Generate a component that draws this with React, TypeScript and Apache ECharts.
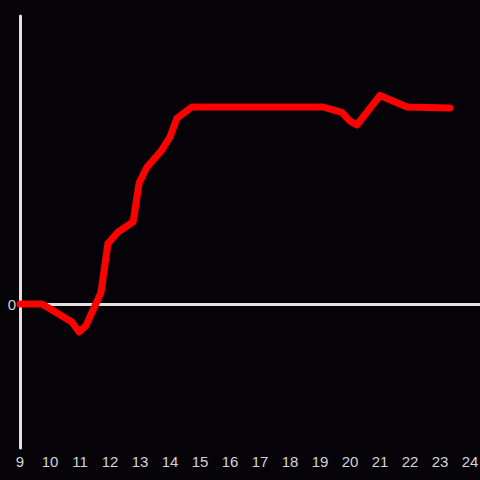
import React, { useEffect, useRef } from "react";
import * as echarts from "echarts";

const xValues = [9, 9.73, 10.73, 10.97, 11.2, 11.7, 11.93, 12.27, 12.77, 12.97, 13.23, 13.73, 14.0, 14.23, 14.73, 19.1, 19.4, 19.73, 20.0, 20.23, 21.0, 21.9, 23.33];
const yValues = [0, 0, -0.125, -0.194, -0.15, 0.08, 0.42, 0.5, 0.57, 0.84, 0.95, 1.07, 1.16, 1.29, 1.368, 1.368, 1.35, 1.33, 1.27, 1.243, 1.448, 1.368, 1.361];
const yLabels = [0];

export default function App() {
  const ref = useRef<HTMLDivElement>(null);
  useEffect(() => {
    document.body.style.margin = "0";
    const chart = echarts.init(ref.current!, undefined, { renderer: "svg" });
    const data = xValues.map((x, i) => [x, yValues[i]]);
    chart.setOption({
      animation: false,
      backgroundColor: "#050307",
      grid: { left: 20, right: 0, top: 16, bottom: 32, containLabel: false, outerBoundsMode: "none" },
      xAxis: {
        type: "value",
        min: 9,
        max: 24.333,
        interval: 1,
        axisLine: { show: false },
        axisTick: { show: false },
        splitLine: { show: false },
        axisLabel: {
          color: "#d4d4d4",
          fontSize: 15,
          fontFamily: "Liberation Sans, Arial, sans-serif",
          margin: 6,
          formatter: (v: number) => (Number.isInteger(v) ? String(v) : ""),
        },
      },
      yAxis: {
        type: "value",
        min: -1,
        max: 2,
        interval: 1,
        axisLine: { show: true, onZero: false, lineStyle: { color: "#e0e0e0", width: 3 } },
        axisTick: { show: false },
        splitLine: { show: false },
        axisLabel: {
          color: "#d4d4d4",
          fontSize: 15,
          fontFamily: "Liberation Sans, Arial, sans-serif",
          margin: 4,
          formatter: (v: number) => (yLabels.includes(v) ? String(v) : ""),
        },
      },
      series: [
        {
          type: "line",
          data,
          showSymbol: false,
          smooth: false,
          lineStyle: { color: "#ff0000", width: 7, join: "round", cap: "round" },
          z: 3,
          markLine: {
            silent: true,
            symbol: "none",
            label: { show: false },
            lineStyle: { color: "#e0e0e0", width: 3, type: "solid" },
            data: [{ yAxis: 0 }],
            z: 2,
          },
        },
      ],
    });
    return () => chart.dispose();
  }, []);
  return <div ref={ref} style={{ width: 480, height: 480 }} />;
}
